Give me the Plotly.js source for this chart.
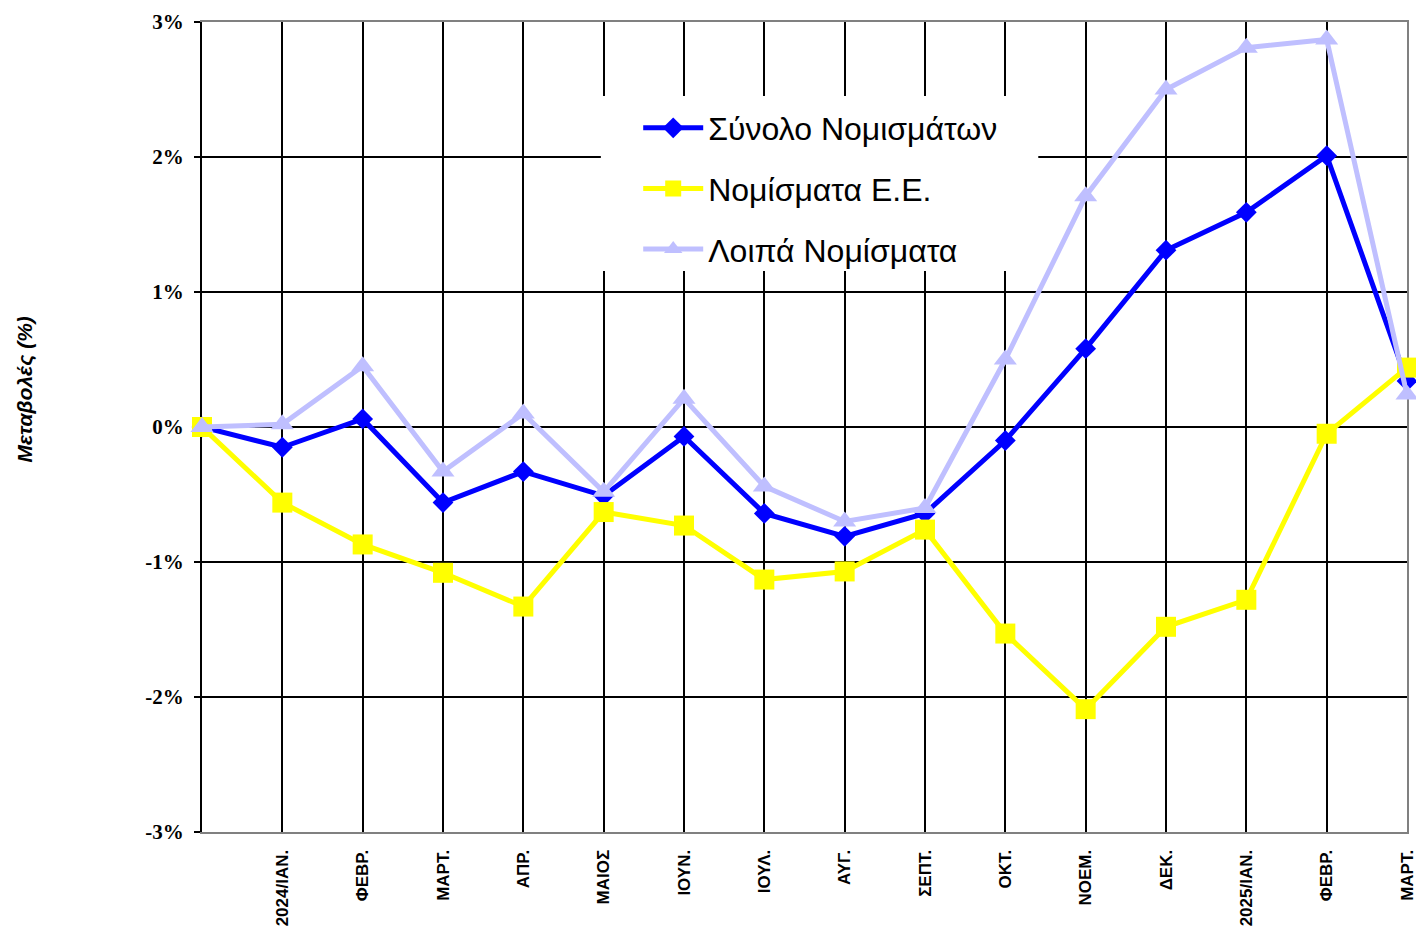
<!DOCTYPE html>
<html>
<head>
<meta charset="utf-8">
<script src="https://cdn.plot.ly/plotly-3.0.1.min.js"></script>
<style>html,body{margin:0;padding:0;background:#fff;}#chart{width:1416px;height:930px;}</style>
</head>
<body>
<div id="chart"></div>
<script>
const monthLabels = ["", "2024/ΙΑΝ.", "ΦΕΒΡ.", "ΜΑΡΤ.", "ΑΠΡ.", "ΜΑΙΟΣ", "ΙΟΥΝ.", "ΙΟΥΛ.", "ΑΥΓ.", "ΣΕΠΤ.", "ΟΚΤ.", "ΝΟΕΜ.", "ΔΕΚ.", "2025/ΙΑΝ.", "ΦΕΒΡ.", "ΜΑΡΤ."];
const totalCurrencies = [0, -0.15, 0.06, -0.56, -0.33, -0.51, -0.07, -0.64, -0.81, -0.64, -0.10, 0.58, 1.31, 1.59, 2.01, 0.34];
const euCurrencies = [0, -0.56, -0.87, -1.08, -1.33, -0.63, -0.73, -1.13, -1.07, -0.76, -1.53, -2.09, -1.48, -1.28, -0.05, 0.44];
const otherCurrencies = [0, 0.02, 0.45, -0.33, 0.10, -0.48, 0.21, -0.44, -0.70, -0.60, 0.50, 1.71, 2.50, 2.81, 2.87, 0.24];
const seriesNames = ["Σύνολο Νομισμάτων", "Νομίσματα Ε.Ε.", "Λοιπά Νομίσματα"];
const yTickVals = [-3, -2, -1, 0, 1, 2, 3];
const yTickText = ["-3%", "-2%", "-1%", "0%", "1%", "2%", "3%"];
const yTitle = "Μεταβολές (%)";

const xIdx = monthLabels.map((_, i) => i);

const traces = [
  {x: xIdx, y: totalCurrencies, name: seriesNames[0], type: 'scatter', mode: 'lines+markers', cliponaxis: false,
   line: {color: '#0000FF', width: 5}, marker: {symbol: 'diamond', size: 16, color: '#0000FF'},
   legendgroup: 'a'},
  {x: xIdx, y: euCurrencies, name: seriesNames[1], type: 'scatter', mode: 'lines+markers', cliponaxis: false,
   line: {color: '#FFFF00', width: 5}, marker: {symbol: 'square', size: 20, color: '#FFFF00'},
   legendgroup: 'b'},
  {x: xIdx, y: otherCurrencies, name: seriesNames[2], type: 'scatter', mode: 'lines+markers', cliponaxis: false,
   line: {color: '#BFBFFF', width: 5}, marker: {symbol: 'triangle-up', size: 20, color: '#BFBFFF'},
   legendgroup: 'c'},
  {x: [xIdx[0]], y: [0], yaxis: 'y2', type: 'scatter', mode: 'markers', showlegend: false,
   hoverinfo: 'skip', marker: {opacity: 0}}
];

const layout = {
  width: 1416, height: 930,
  margin: {l: 202, r: 9, t: 22, b: 98},
  paper_bgcolor: '#fff', plot_bgcolor: '#fff',
  showlegend: true,
  legend: {
    x: 0.362, y: 0.903, xanchor: 'left', yanchor: 'top',
    bgcolor: 'rgba(0,0,0,0)', borderwidth: 0,
    font: {family: 'Liberation Sans, Arial, sans-serif', size: 32, color: '#000'},
    traceorder: 'grouped', tracegroupgap: 16, itemwidth: 60
  },
  xaxis: {
    range: [0, monthLabels.length - 1],
    tickvals: xIdx, ticktext: monthLabels, tickangle: -90, ticklabeloverflow: 'allow',
    tickfont: {family: 'Liberation Sans, Arial, sans-serif', size: 17, color: '#000', weight: 'bold'},
    ticks: '', ticklabelstandoff: 9,
    showgrid: true, gridcolor: '#000', gridwidth: 2,
    showline: true, linecolor: '#808080', linewidth: 2, mirror: true,
    zeroline: false, layer: 'below traces', fixedrange: true
  },
  yaxis: {
    range: [-3, 3], tickvals: yTickVals, ticktext: yTickText,
    tickfont: {family: 'Liberation Serif, Times New Roman, serif', size: 21, color: '#000', weight: 'bold'},
    ticks: 'outside', ticklen: 6, tickwidth: 2, tickcolor: '#000', ticklabelstandoff: 6,
    showgrid: true, gridcolor: '#000', gridwidth: 2,
    showline: true, linecolor: '#000', linewidth: 2,
    zeroline: false, layer: 'below traces', fixedrange: true
  },
  yaxis2: {
    overlaying: 'y', side: 'right', range: [-3, 3],
    showticklabels: false, ticks: '', showgrid: false, zeroline: false,
    showline: true, linecolor: '#808080', linewidth: 2, layer: 'below traces', fixedrange: true
  },
  shapes: [
    {type: 'rect', xref: 'paper', yref: 'paper', x0: 0.331, x1: 0.694, y0: 0.6926, y1: 0.9086,
     fillcolor: '#fff', line: {width: 0}, layer: 'above'}
  ],
  annotations: [
    {text: yTitle, xref: 'paper', yref: 'paper', x: -0.147, y: 0.546, xanchor: 'center', yanchor: 'middle',
     textangle: -90, showarrow: false,
     font: {family: 'Liberation Sans, Arial, sans-serif', size: 21, color: '#000', weight: 'bold', style: 'italic'}}
  ]
};

Plotly.newPlot('chart', traces, layout, {displayModeBar: false, staticPlot: true});
</script>
</body>
</html>
